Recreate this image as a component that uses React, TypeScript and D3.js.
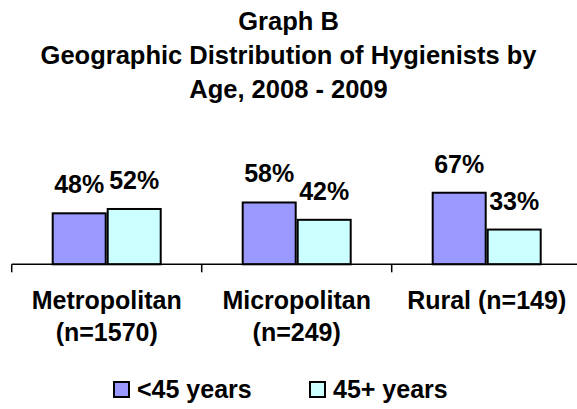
import React, { useEffect, useRef } from "react";
import * as d3 from "d3";

const titleLines = ["Graph B", "Geographic Distribution of Hygienists by", "Age, 2008 - 2009"];
const categories = ["Metropolitan", "Micropolitan", "Rural"];
const categoryLabels = [["Metropolitan", "(n=1570)"], ["Micropolitan", "(n=249)"], ["Rural (n=149)"]];
const seriesNames = ["<45 years", "45+ years"];
const under45 = [48, 58, 67];
const over45 = [52, 42, 33];
const colors = ["#9999FF", "#CCFFFF"];

const W = 577;
const H = 409;
const FONT = "'Liberation Sans', Arial, sans-serif";

export default function App() {
  const ref = useRef<SVGSVGElement | null>(null);

  useEffect(() => {
    const svg = d3.select(ref.current);
    svg.selectAll("*").remove();

    const axisY = 264.3;
    const x0 = d3.scaleBand<string>().domain(categories).range([11.7, 581.7]);
    const x1 = d3.scaleBand<string>().domain(seriesNames).range([40, 150]);
    const y = d3.scaleLinear().domain([0, 100]).range([axisY, axisY - 108.3]);

    // title
    svg
      .append("g")
      .selectAll("text")
      .data(titleLines)
      .join("text")
      .attr("x", W / 2)
      .attr("y", (d, i) => 30 + i * 34)
      .attr("text-anchor", "middle")
      .style("font-family", FONT)
      .style("font-weight", "bold")
      .style("font-size", "25.5px")
      .text((d) => d);

    const rows = categories.map((c, i) => ({ cat: c, values: [under45[i], over45[i]] }));

    const groups = svg
      .append("g")
      .selectAll("g")
      .data(rows)
      .join("g")
      .attr("transform", (d) => `translate(${x0(d.cat)},0)`);

    groups
      .selectAll("rect")
      .data((d) => d.values.map((v, j) => ({ name: seriesNames[j], v, j })))
      .join("rect")
      .attr("x", (d) => (x1(d.name) as number) + 1)
      .attr("y", (d) => y(d.v) + 1)
      .attr("width", x1.bandwidth() - 2)
      .attr("height", (d) => axisY - y(d.v) - 1)
      .attr("fill", (d) => colors[d.j])
      .attr("stroke", "#000")
      .attr("stroke-width", 2);

    groups
      .selectAll("text.val")
      .data((d) => d.values.map((v, j) => ({ name: seriesNames[j], v })))
      .join("text")
      .attr("class", "val")
      .attr("x", (d) => (x1(d.name) as number) + x1.bandwidth() / 2)
      .attr("y", (d) => y(d.v) - 19)
      .attr("text-anchor", "middle")
      .style("font-family", FONT)
      .style("font-weight", "bold")
      .style("font-size", "25px")
      .text((d) => `${d.v}%`);

    // axis line and ticks at category boundaries
    svg
      .append("line")
      .attr("x1", x0.range()[0])
      .attr("x2", x0.range()[1])
      .attr("y1", axisY)
      .attr("y2", axisY)
      .attr("stroke", "#000")
      .attr("stroke-width", 1.5);

    svg
      .append("g")
      .selectAll("line")
      .data(categories)
      .join("line")
      .attr("x1", (d) => x0(d) as number)
      .attr("x2", (d) => x0(d) as number)
      .attr("y1", axisY)
      .attr("y2", axisY + 8)
      .attr("stroke", "#000")
      .attr("stroke-width", 1.5);

    // category labels
    svg
      .append("g")
      .selectAll("text")
      .data(categories)
      .join("text")
      .attr("x", (d) => (x0(d) as number) + x0.bandwidth() / 2)
      .attr("y", 309)
      .attr("text-anchor", "middle")
      .style("font-family", FONT)
      .style("font-weight", "bold")
      .style("font-size", "25px")
      .each(function (d, i) {
        d3.select(this)
          .selectAll("tspan")
          .data(categoryLabels[i])
          .join("tspan")
          .attr("x", (x0(d) as number) + x0.bandwidth() / 2)
          .attr("dy", (t, k) => (k === 0 ? 0 : 32))
          .text((t) => t);
      });

    // legend
    const legendX = [114, 310];
    const legend = svg
      .append("g")
      .selectAll("g")
      .data(seriesNames)
      .join("g")
      .attr("transform", (d, i) => `translate(${legendX[i]},382)`);

    legend
      .append("rect")
      .attr("width", 15)
      .attr("height", 15)
      .attr("fill", (d, i) => colors[i])
      .attr("stroke", "#000")
      .attr("stroke-width", 2);

    legend
      .append("text")
      .attr("x", 23)
      .attr("y", 16)
      .style("font-family", FONT)
      .style("font-weight", "bold")
      .style("font-size", "25px")
      .text((d) => d);
  }, []);

  return (
    <svg
      ref={ref}
      width={W}
      height={H}
      style={{ position: "absolute", left: 0, top: 0, background: "#fff" }}
    />
  );
}
